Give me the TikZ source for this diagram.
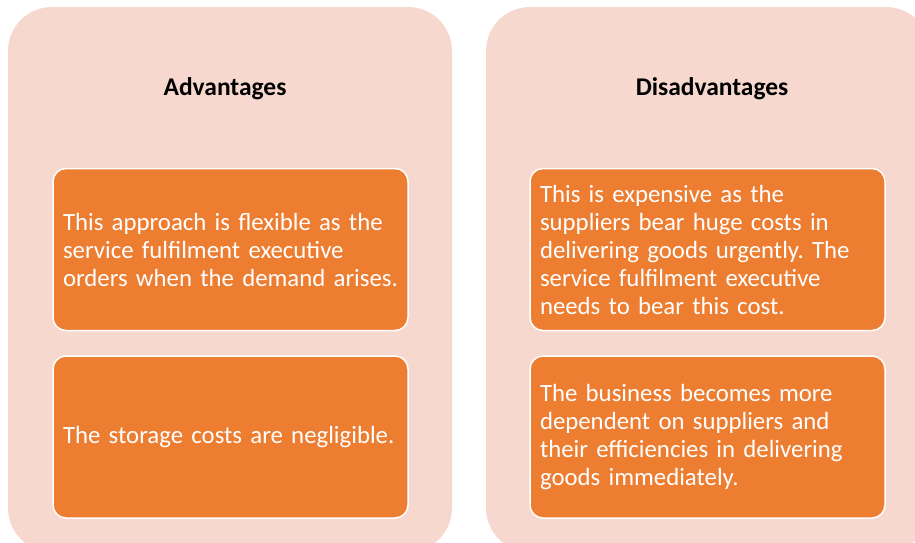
\documentclass[tikz,border=0pt]{standalone}
\usepackage{fontspec}
\setmainfont{Carlito}
\frenchspacing
\definecolor{panelfill}{HTML}{F7D8CE}
\definecolor{itemfill}{HTML}{ED7D31}
\begin{document}
\begin{tikzpicture}[x=1pt,y=-1pt,
  panel/.style={fill=panelfill, draw=none, rounded corners=44pt},
  item/.style={fill=itemfill, draw=white, line width=1.5pt, rounded corners=13pt,
    minimum width=355pt, minimum height=162pt, text width=335pt, align=left,
    text=white, inner sep=0pt, font=\fontsize{24.8}{28}\selectfont},
  heading/.style={font=\bfseries\fontsize{25.5}{28}\selectfont, text=black}]
  \useasboundingbox (0,0) rectangle (915,542);
  \begin{scope}
    \clip (0,0) rectangle (915,542);
    % the two column panels
    \fill[panel] (8,7) rectangle (452,552);
    \fill[panel] (486,7) rectangle (930,552);
  \end{scope}
  % column headings
  \node[heading] (advh) at (225,88.5) {Advantages};
  \node[heading] (dish) at (712,88.5) {Disadvantages};
  % advantages
  \node[item] (adv1) at (230.5,249.5) {This approach is flexible as the\\ service fulfilment executive\\ orders when the demand arises.};
  \node[item] (adv2) at (230.5,437) {The storage costs are negligible.};
  % disadvantages
  \node[item] (dis1) at (707.5,249.5) {This is expensive as the\\ suppliers bear huge costs in\\ delivering goods urgently. The\\ service fulfilment executive\\ needs to bear this cost.};
  \node[item] (dis2) at (707.5,437) {The business becomes more\\ dependent on suppliers and\\ their efficiencies in delivering\\ goods immediately.};
\end{tikzpicture}
\end{document}
